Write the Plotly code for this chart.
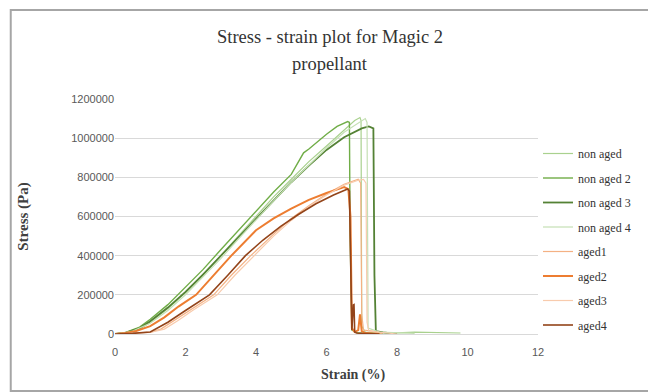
import plotly.graph_objects as go

# ---- data (strain in %, stress in Pa) ----
names = ["non aged", "non aged 2", "non aged 3", "non aged 4", "aged1", "aged2", "aged3", "aged4"]
colors = ["#A9D18E", "#70AD47", "#548235", "#C5E0B4", "#F4B183", "#ED7D31", "#F8CBAD", "#93441A"]
widths = [1.2, 1.4, 1.8, 1.2, 1.2, 2.0, 1.2, 1.6]

non_aged_x = [0, 0.3, 0.7, 1.0, 1.5, 2.0, 2.5, 3.0, 3.5, 4.0, 4.5, 5.0, 5.5, 6.0, 6.5, 6.8, 6.95, 6.98, 7.0, 7.1, 7.5, 8.0, 8.5, 9.0, 9.8]
non_aged_y = [0, 5000, 25000, 60000, 130000, 210000, 300000, 400000, 500000, 600000, 700000, 790000, 880000, 960000, 1040000, 1090000, 1105000, 1090000, 40000, 10000, 8000, 6000, 10000, 8000, 5000]

non_aged2_x = [0, 0.3, 0.7, 1.0, 1.5, 2.0, 2.5, 3.0, 3.5, 4.0, 4.5, 5.0, 5.35, 5.5, 6.0, 6.3, 6.6, 6.65, 6.67, 6.72, 6.9, 7.2, 7.6]
non_aged2_y = [0, 8000, 35000, 75000, 150000, 240000, 330000, 430000, 530000, 630000, 725000, 815000, 925000, 945000, 1020000, 1060000, 1085000, 1080000, 500000, 20000, 5000, 3000, 0]

non_aged3_x = [0, 0.3, 0.7, 1.0, 1.5, 2.0, 2.5, 3.0, 3.5, 4.0, 4.5, 5.0, 5.5, 6.0, 6.5, 7.0, 7.2, 7.33, 7.36, 7.4, 7.6, 8.0]
non_aged3_y = [0, 6000, 30000, 65000, 135000, 215000, 305000, 400000, 495000, 590000, 685000, 775000, 860000, 940000, 1005000, 1050000, 1060000, 1050000, 300000, 15000, 8000, 0]

non_aged4_x = [0, 0.5, 1.0, 1.5, 2.0, 2.5, 3.0, 3.5, 4.0, 4.5, 5.0, 5.5, 6.0, 6.5, 7.0, 7.1, 7.15, 7.18, 7.5, 8.0, 8.5]
non_aged4_y = [0, 15000, 55000, 120000, 200000, 290000, 385000, 485000, 585000, 680000, 775000, 865000, 950000, 1030000, 1090000, 1100000, 1080000, 30000, 10000, 8000, 3000]

aged1_x = [0, 0.5, 1.0, 1.3, 1.6, 2.0, 2.4, 2.8, 3.3, 3.85, 4.5, 5.0, 5.5, 6.0, 6.5, 6.9, 6.97, 7.0, 7.05, 7.3, 7.6]
aged1_y = [0, 5000, 10000, 25000, 60000, 110000, 155000, 200000, 300000, 400000, 510000, 590000, 655000, 715000, 765000, 790000, 770000, 100000, 20000, 15000, 0]

aged2_x = [0, 0.3, 0.6, 1.0, 1.4, 1.8, 2.3, 2.8, 3.3, 4.0, 4.5, 5.0, 5.5, 6.0, 6.3, 6.5, 6.62, 6.68, 6.72, 6.8, 6.9, 6.95, 7.0, 7.1, 7.5]
aged2_y = [0, 5000, 15000, 40000, 85000, 140000, 200000, 300000, 400000, 530000, 590000, 640000, 685000, 720000, 740000, 750000, 740000, 600000, 30000, 10000, 20000, 100000, 15000, 5000, 0]

aged3_x = [0, 0.5, 1.0, 1.4, 1.8, 2.2, 2.9, 3.4, 3.95, 4.5, 5.0, 5.5, 6.0, 6.5, 6.9, 7.05, 7.12, 7.15, 7.2, 7.5, 8.0]
aged3_y = [0, 4000, 8000, 25000, 70000, 120000, 200000, 300000, 400000, 500000, 580000, 650000, 710000, 760000, 785000, 790000, 770000, 60000, 15000, 10000, 0]

aged4_x = [0, 0.5, 1.0, 1.1, 1.5, 2.0, 2.68, 3.2, 3.7, 4.2, 4.7, 5.2, 5.7, 6.2, 6.5, 6.6, 6.65, 6.68, 6.72, 6.76, 6.78, 6.8, 6.85, 7.0, 7.5]
aged4_y = [0, 3000, 10000, 20000, 60000, 120000, 200000, 300000, 400000, 480000, 550000, 610000, 665000, 710000, 735000, 740000, 730000, 300000, 20000, 148000, 150000, 10000, 5000, 3000, 0]

xs = [non_aged_x, non_aged2_x, non_aged3_x, non_aged4_x, aged1_x, aged2_x, aged3_x, aged4_x]
ys = [non_aged_y, non_aged2_y, non_aged3_y, non_aged4_y, aged1_y, aged2_y, aged3_y, aged4_y]

x_ticks = [0, 2, 4, 6, 8, 10, 12]
y_ticks = [0, 200000, 400000, 600000, 800000, 1000000, 1200000]

SERIF = "Liberation Serif"
W, H = 648, 392
L, R, T, B = 115, 541, 99, 334  # plot area in pixels
PW, PH = R - L, B - T

fig = go.Figure()
for n, c, w, x, y in zip(names, colors, widths, xs, ys):
    fig.add_trace(go.Scatter(x=x, y=y, mode="lines", name=n, legendgroup=n,
                             line=dict(color=c, width=w)))

fig.update_layout(
    width=W, height=H,
    margin=dict(l=L, r=W - R, t=T, b=H - B),
    paper_bgcolor="white", plot_bgcolor="white",
    showlegend=True,
    legend=dict(x=1.0, xanchor="left",
                y=(B - 139) / PH, yanchor="top",
                font=dict(family=SERIF, size=12, color="#333333"),
                tracegroupgap=5.5, bgcolor="rgba(0,0,0,0)", itemwidth=30),
    xaxis=dict(range=[0, 12], tickvals=x_ticks, showgrid=False, zeroline=False,
               showline=True, linecolor="#D9D9D9", linewidth=1,
               ticklabelstandoff=8,
               tickfont=dict(family="Liberation Sans", size=11, color="#595959")),
    yaxis=dict(range=[0, 1200000], tickvals=y_ticks, tickformat="d",
               showgrid=True, gridcolor="#D9D9D9", gridwidth=1, zeroline=False,
               tickfont=dict(family="Liberation Sans", size=11, color="#595959"),
               title=dict(text="<b>Stress (Pa)</b>", font=dict(family=SERIF, size=15, color="#404040"),
                          standoff=38)),
    annotations=[
        dict(text="Stress - strain plot for Magic 2", xref="paper", yref="paper",
             x=(332 - L) / PW, y=(B - 37) / PH, showarrow=False, xanchor="center", yanchor="middle",
             font=dict(family=SERIF, size=18.5, color="#333333")),
        dict(text="propellant", xref="paper", yref="paper",
             x=(332 - L) / PW, y=(B - 64) / PH, showarrow=False, xanchor="center", yanchor="middle",
             font=dict(family=SERIF, size=18.5, color="#333333")),
        dict(text="<b>Strain (%)</b>", xref="paper", yref="paper",
             x=(355 - L) / PW, y=(B - 375) / PH, showarrow=False, xanchor="center", yanchor="middle",
             font=dict(family=SERIF, size=14, color="#404040")),
    ],
    shapes=[dict(type="rect", xref="paper", yref="paper",
                 x0=(10 - L) / PW, x1=(700 - L) / PW,
                 y0=(B - 391) / PH, y1=(B - 10) / PH,
                 line=dict(color="#A6A6A6", width=2), layer="below")],
)

fig.write_html("out.html")
